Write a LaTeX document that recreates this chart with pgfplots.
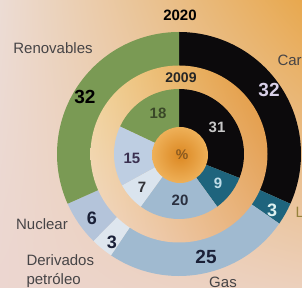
\documentclass[border=0pt]{standalone}
\usepackage{pgfplots}
\pgfplotsset{compat=1.18}
\usepackage{pgfplotstable}
\usetikzlibrary{shadings}
\usepackage{fontspec}
\setmainfont{Liberation Sans}

\definecolor{cGreen}{RGB}{122,154,84}
\definecolor{cBlack}{RGB}{12,10,12}
\definecolor{cTeal}{RGB}{30,100,125}
\definecolor{cGas}{RGB}{160,186,208}
\definecolor{cDer}{RGB}{222,230,238}
\definecolor{cNuc}{RGB}{180,196,218}
\definecolor{cFifteen}{RGB}{190,206,226}
\definecolor{cSeven}{RGB}{218,228,238}
\definecolor{txtGray}{RGB}{70,68,70}
\definecolor{txtNavy}{RGB}{26,32,55}
\definecolor{bgUL}{RGB}{236,220,212}
\definecolor{bgUR}{RGB}{232,168,78}
\definecolor{bgLL}{RGB}{236,214,208}
\definecolor{bgLR}{RGB}{236,208,188}
\definecolor{gpUL}{RGB}{242,212,150}
\definecolor{gpUR}{RGB}{226,150,58}
\definecolor{gpLL}{RGB}{240,216,200}
\definecolor{gpLR}{RGB}{232,176,120}
\definecolor{ctIn}{RGB}{220,136,34}
\definecolor{ctOut}{RGB}{238,176,88}

% 2020 (outer ring), clockwise from the top
\pgfplotstableread{
val col
32 cBlack
3 cTeal
25 cGas
3 cDer
6 cNuc
32 cGreen
}\outerdata

% 2009 (inner ring), clockwise from the top
\pgfplotstableread{
val col
31 cBlack
9 cTeal
20 cGas
7 cSeven
15 cFifteen
18 cGreen
}\innerdata

\newcommand\drawring[2]{%
  \pgfplotstablegetrowsof{#1}%
  \pgfmathtruncatemacro\nrows{\pgfplotsretval-1}%
  \gdef\ringsum{0}%
  \foreach \i in {0,...,\nrows}{%
    \pgfplotstablegetelem{\i}{val}\of{#1}%
    \pgfmathsetmacro\tmpsum{\ringsum+\pgfplotsretval}%
    \xdef\ringsum{\tmpsum}%
  }%
  \gdef\astart{90}%
  \foreach \i in {0,...,\nrows}{%
    \pgfplotstablegetelem{\i}{val}\of{#1}\let\segval\pgfplotsretval
    \pgfplotstablegetelem{\i}{col}\of{#1}\let\segcol\pgfplotsretval
    \pgfmathsetmacro\aend{\astart-360*\segval/\ringsum}%
    \edef\cmd{\noexpand\fill[\segcol] (axis cs:179,134) -- ++(\astart:#2) arc[start angle=\astart,end angle=\aend,radius=#2] -- cycle;}%
    \cmd
    \xdef\astart{\aend}%
  }%
}

\begin{document}
\begin{tikzpicture}
\begin{axis}[
  scale only axis, width=302pt, height=288pt,
  xmin=0, xmax=302, ymin=0, ymax=288,
  hide axis, clip=true,
]
% background
\shade[shading=bilinear interpolation,
       upper left=bgUL, upper right=bgUR, lower left=bgLL, lower right=bgLR]
  (axis cs:0,0) rectangle (axis cs:302,288);
% outer ring (2020)
\drawring{\outerdata}{122pt}
% gap ring
\shade[shading=bilinear interpolation,
       upper left=gpUL, upper right=gpUR, lower left=gpLL, lower right=gpLR]
  (axis cs:179,134) circle[radius=88.5pt];
% inner ring (2009)
\drawring{\innerdata}{65pt}
% centre
\shade[inner color=ctIn, outer color=ctOut]
  (axis cs:180,133) circle[radius=28pt];

% labels
\node[font=\bfseries\fontsize{15}{15}\selectfont, text=black] at (axis cs:180,273) {2020};
\node[font=\bfseries\fontsize{14}{14}\selectfont, text=black!85] at (axis cs:181,210) {2009};
\node[font=\fontsize{15}{15}\selectfont, text=txtGray] at (axis cs:53,240) {Renovables};
\node[font=\fontsize{15}{15}\selectfont, text=txtGray, anchor=west] at (axis cs:274,228) {Carbón};
\node[font=\fontsize{15}{15}\selectfont, text=txtGray] at (axis cs:42,64) {Nuclear};
\node[font=\fontsize{15}{19}\selectfont, text=txtGray, anchor=west, align=left] at (axis cs:23,17) {Derivados\\petróleo};
\node[font=\fontsize{15}{15}\selectfont, text=txtGray] at (axis cs:223,6) {Gas};
\node[font=\fontsize{15}{15}\selectfont, text={rgb,255:red,150;green,130;blue,60}, anchor=west] at (axis cs:292,74) {Lignito};

\node[font=\bfseries\fontsize{19}{19}\selectfont, text=black] at (axis cs:85,191) {32};
\node[font=\bfseries\fontsize{19}{19}\selectfont, text={rgb,255:red,216;green,208;blue,232}] at (axis cs:269,198) {32};
\node[font=\bfseries\fontsize{18}{18}\selectfont, text={rgb,255:red,220;green,240;blue,240}] at (axis cs:272,78) {3};
\node[font=\bfseries\fontsize{19}{19}\selectfont, text=txtNavy] at (axis cs:206,31) {25};
\node[font=\bfseries\fontsize{18}{18}\selectfont, text=txtNavy] at (axis cs:112,46) {3};
\node[font=\bfseries\fontsize{18}{18}\selectfont, text=txtNavy] at (axis cs:92,70) {6};

\node[font=\bfseries\fontsize{15}{15}\selectfont, text={rgb,255:red,58;green,72;blue,40}] at (axis cs:158,175) {18};
\node[font=\bfseries\fontsize{15}{15}\selectfont, text={rgb,255:red,200;green,200;blue,200}] at (axis cs:217,161) {31};
\node[font=\bfseries\fontsize{15}{15}\selectfont, text={rgb,255:red,192;green,221;blue,232}] at (axis cs:218,105) {9};
\node[font=\bfseries\fontsize{15}{15}\selectfont, text={rgb,255:red,42;green,48;blue,64}] at (axis cs:180,88) {20};
\node[font=\bfseries\fontsize{15}{15}\selectfont, text={rgb,255:red,50;green,50;blue,55}] at (axis cs:142,101) {7};
\node[font=\bfseries\fontsize{15}{15}\selectfont, text={rgb,255:red,58;green,48;blue,80}] at (axis cs:132,130) {15};
\node[font=\bfseries\fontsize{14}{14}\selectfont, text={rgb,255:red,138;green,90;blue,32}] at (axis cs:182,133) {\%};
\end{axis}
\pgfresetboundingbox
\useasboundingbox (current axis.south west) rectangle (current axis.north east);
\end{tikzpicture}
\end{document}
